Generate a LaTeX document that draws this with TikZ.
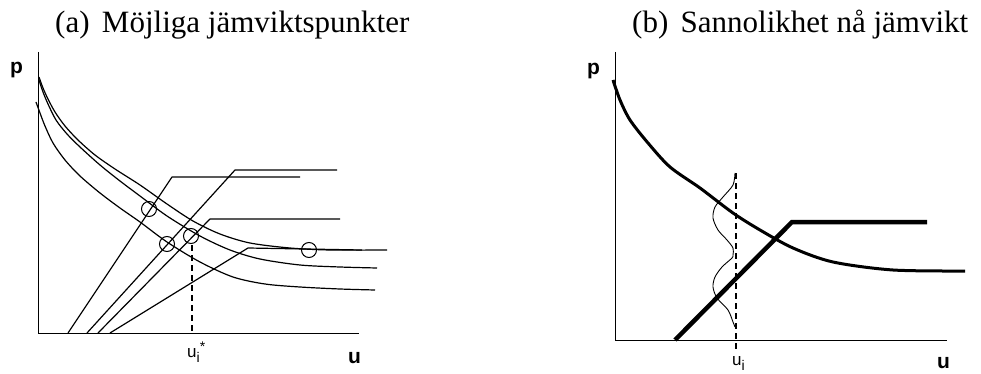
\documentclass[tikz,border=0pt]{standalone}
\usepackage{fontspec}
\setmainfont{Liberation Serif}
\newfontfamily\lsans{Liberation Sans}
\begin{document}
\begin{tikzpicture}[x=1pt,y=-1pt,
  axis/.style={line width=1pt},
  curve/.style={line width=1.2pt, line join=round},
  thickcurve/.style={line width=3pt, line join=round},
  thickline/.style={line width=4.5pt, line join=miter},
  dashline/.style={line width=1.2pt, dash pattern=on 6pt off 4pt},
  density/.style={line width=0.9pt, line join=round},
  marker/.style={line width=1pt},
  titletext/.style={font=\fontsize{31}{31}\selectfont, anchor=base west, inner sep=0pt},
  axlabel/.style={font=\lsans\bfseries\fontsize{21}{21}\selectfont, anchor=base west, inner sep=0pt},
  ticklabel/.style={font=\lsans\fontsize{17}{17}\selectfont, anchor=base west, inner sep=0pt}]
\useasboundingbox (0,0) rectangle (981,374);

% titles
\node[titletext] (ta) at (55,33) {(a)\hspace{0.4em}Möjliga jämviktspunkter};
\node[titletext] (tb) at (632,33) {(b)\hspace{0.4em}Sannolikhet nå jämvikt};

% ---------- panel (a) ----------
\draw[axis] (38,52) -- (38,333) -- (359,333);
\node[axlabel] (pa) at (10,74) {p};
\node[axlabel] (ua) at (348,363) {u};
\node[ticklabel] (uia) at (187,357) {u\raisebox{-5pt}{\fontsize{14}{14}\selectfont i}\raisebox{6pt}{\fontsize{14}{14}\selectfont *}};

% demand curves
\draw[curve] plot[smooth] coordinates {(39,77) (43,88) (48,99) (55,112) (65,126) (78,140) (95,155) (115,169) (140,185) (167,204) (193,221) (220,234) (250,243) (290,248) (330,250) (387,250)};
\draw[curve] plot[smooth] coordinates {(39,80) (43,92) (48,104) (56,120) (67,134) (80,147) (100,165) (120,181) (140,196) (167,216) (200,236) (230,250) (260,259) (300,265) (340,267) (377,268)};
\draw[curve] plot[smooth] coordinates {(36,102) (40,113) (45,126) (53,143) (65,160) (80,176) (100,193) (120,208) (140,222) (167,242) (200,262) (233,277) (265,284) (300,287) (340,289) (375,290)};

% supply lines
\draw[curve] (68,333) -- (172,177) -- (300,177);
\draw[curve] (87,333) -- (235,170) -- (337,170);
\draw[curve] (98,333) -- (210,219) -- (340,219);
\draw[curve] (110,333) -- (248,248) -- (362,250);

% equilibrium circles
\draw[marker] (149,209) circle (7.5);
\draw[marker] (167,244) circle (7.5);
\draw[marker] (191,236) circle (7.5);
\draw[marker] (309,250) circle (7.5);

\draw[dashline] (192,245) -- (192,333);

% ---------- panel (b) ----------
\draw[axis] (615,52) -- (615,340) -- (947,340);
\node[axlabel] (pb) at (587,75) {p};
\node[axlabel] (ub) at (937,368) {u};
\node[ticklabel] (uib) at (732,365) {u\raisebox{-5pt}{\fontsize{14}{14}\selectfont i}};

\draw[thickcurve] plot[smooth] coordinates {(613,80) (620,100) (630,120) (648,143) (670,167) (700,188) (733,213) (760,230) (793,248) (833,262) (893,270) (965,271)};
\draw[thickline] (675,340) -- (792,222) -- (927,222);
\draw[dashline] (736,173) -- (736,350);
\draw[density] plot[smooth] coordinates {(735,173) (733,185) (723,197) (715,207) (713,218) (718,230) (727,240) (733,248) (733,255) (732,258) (722,267) (715,277) (713,287) (717,298) (728,310) (733,322) (735,327)};
\end{tikzpicture}
\end{document}
